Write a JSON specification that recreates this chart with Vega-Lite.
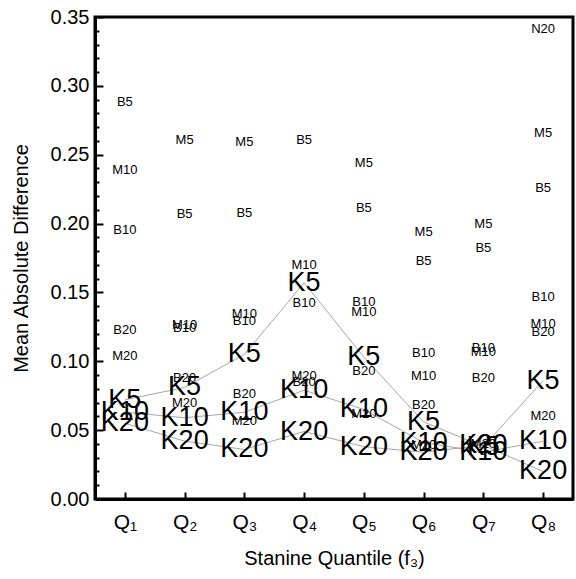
{
  "$schema": "https://vega.github.io/schema/vega-lite/v6.json",
  "width": 478,
  "height": 482,
  "autosize": "none",
  "padding": {"left": 95, "top": 17, "right": 3, "bottom": 80},
  "background": "white",
  "config": {
    "font": "Liberation Sans",
    "view": {"stroke": "black", "strokeWidth": 3, "fill": null}
  },
  "data": {
    "values": [
      {"q": "Q1", "label": "B5", "v": 0.288},
      {"q": "Q1", "label": "M10", "v": 0.239},
      {"q": "Q1", "label": "B10", "v": 0.195},
      {"q": "Q1", "label": "B20", "v": 0.123},
      {"q": "Q1", "label": "M20", "v": 0.104},
      {"q": "Q1", "label": "K5", "v": 0.072},
      {"q": "Q1", "label": "K10", "v": 0.063},
      {"q": "Q1", "label": "K20", "v": 0.055},
      {"q": "Q2", "label": "M5", "v": 0.261},
      {"q": "Q2", "label": "B5", "v": 0.207},
      {"q": "Q2", "label": "M10", "v": 0.126},
      {"q": "Q2", "label": "B10", "v": 0.124},
      {"q": "Q2", "label": "B20", "v": 0.088},
      {"q": "Q2", "label": "K5", "v": 0.081},
      {"q": "Q2", "label": "M20", "v": 0.070},
      {"q": "Q2", "label": "K10", "v": 0.059},
      {"q": "Q2", "label": "K20", "v": 0.042},
      {"q": "Q3", "label": "M5", "v": 0.259},
      {"q": "Q3", "label": "B5", "v": 0.208},
      {"q": "Q3", "label": "M10", "v": 0.134},
      {"q": "Q3", "label": "B10", "v": 0.129},
      {"q": "Q3", "label": "K5", "v": 0.105},
      {"q": "Q3", "label": "B20", "v": 0.076},
      {"q": "Q3", "label": "K10", "v": 0.063},
      {"q": "Q3", "label": "M20", "v": 0.057},
      {"q": "Q3", "label": "K20", "v": 0.036},
      {"q": "Q4", "label": "B5", "v": 0.261},
      {"q": "Q4", "label": "M10", "v": 0.170},
      {"q": "Q4", "label": "K5", "v": 0.157},
      {"q": "Q4", "label": "B10", "v": 0.142},
      {"q": "Q4", "label": "M20", "v": 0.089},
      {"q": "Q4", "label": "B20", "v": 0.085},
      {"q": "Q4", "label": "K10", "v": 0.079},
      {"q": "Q4", "label": "K20", "v": 0.049},
      {"q": "Q5", "label": "M5", "v": 0.244},
      {"q": "Q5", "label": "B5", "v": 0.211},
      {"q": "Q5", "label": "B10", "v": 0.143},
      {"q": "Q5", "label": "M10", "v": 0.136},
      {"q": "Q5", "label": "K5", "v": 0.103},
      {"q": "Q5", "label": "B20", "v": 0.093},
      {"q": "Q5", "label": "K10", "v": 0.065},
      {"q": "Q5", "label": "M20", "v": 0.062},
      {"q": "Q5", "label": "K20", "v": 0.038},
      {"q": "Q6", "label": "M5", "v": 0.194},
      {"q": "Q6", "label": "B5", "v": 0.173},
      {"q": "Q6", "label": "B10", "v": 0.106},
      {"q": "Q6", "label": "M10", "v": 0.089},
      {"q": "Q6", "label": "B20", "v": 0.068},
      {"q": "Q6", "label": "K5", "v": 0.056},
      {"q": "Q6", "label": "M20", "v": 0.039},
      {"q": "Q6", "label": "K10", "v": 0.041},
      {"q": "Q6", "label": "K20", "v": 0.034},
      {"q": "Q7", "label": "M5", "v": 0.200},
      {"q": "Q7", "label": "B5", "v": 0.182},
      {"q": "Q7", "label": "B10", "v": 0.110},
      {"q": "Q7", "label": "M10", "v": 0.107},
      {"q": "Q7", "label": "B20", "v": 0.088},
      {"q": "Q7", "label": "M20", "v": 0.040},
      {"q": "Q7", "label": "K5", "v": 0.038},
      {"q": "Q7", "label": "K20", "v": 0.039},
      {"q": "Q7", "label": "K10", "v": 0.034},
      {"q": "Q8", "label": "N20", "v": 0.341},
      {"q": "Q8", "label": "M5", "v": 0.266},
      {"q": "Q8", "label": "B5", "v": 0.226},
      {"q": "Q8", "label": "B10", "v": 0.147},
      {"q": "Q8", "label": "M10", "v": 0.127},
      {"q": "Q8", "label": "B20", "v": 0.121},
      {"q": "Q8", "label": "K5", "v": 0.086},
      {"q": "Q8", "label": "M20", "v": 0.060},
      {"q": "Q8", "label": "K10", "v": 0.042},
      {"q": "Q8", "label": "K20", "v": 0.020}
    ]
  },
  "encoding": {
    "x": {
      "field": "q",
      "type": "ordinal",
      "sort": ["Q1", "Q2", "Q3", "Q4", "Q5", "Q6", "Q7", "Q8"],
      "scale": {"type": "point", "padding": 0.5},
      "axis": {
        "title": "Stanine Quantile (f₃)",
        "labelExpr": "'Q' + ['₁','₂','₃','₄','₅','₆','₇','₈'][toNumber(substring(datum.label,1))-1]",
        "labelAngle": 0,
        "labelFontSize": 21,
        "labelColor": "black",
        "labelPadding": 19,
        "titleFontSize": 20,
        "titleFontWeight": "normal",
        "titleColor": "black",
        "titlePadding": 16,
        "tickSize": -7,
        "tickWidth": 2,
        "tickColor": "black",
        "domainColor": "black",
        "domainWidth": 3,
        "grid": false,
        "zindex": 2
      }
    }
  },
  "resolve": {"axis": {"y": "independent"}},
  "layer": [
    {
      "transform": [{"filter": "indexof(datum.label, 'K') === 0"}],
      "mark": {"type": "line", "color": "#a6a6a6", "strokeWidth": 1},
      "encoding": {
        "detail": {"field": "label"},
        "y": {
          "field": "v",
          "type": "quantitative",
          "scale": {"domain": [0, 0.35], "nice": false, "zero": true},
          "axis": {
            "orient": "left",
            "title": null,
            "values": [0.01, 0.02, 0.03, 0.04, 0.06, 0.07, 0.08, 0.09, 0.11, 0.12, 0.13, 0.14, 0.16, 0.17, 0.18, 0.19, 0.21, 0.22, 0.23, 0.24, 0.26, 0.27, 0.28, 0.29, 0.31, 0.32, 0.33, 0.34],
            "labels": false,
            "domain": false,
            "tickSize": -4,
            "tickWidth": 2,
            "tickColor": "black",
            "grid": false,
            "zindex": 2
          }
        }
      }
    },
    {
      "mark": {"type": "text", "align": "center", "baseline": "middle", "color": "black", "font": "Liberation Sans"},
      "encoding": {
        "text": {"field": "label"},
        "size": {"condition": {"test": "indexof(datum.label, 'K') === 0", "value": 27}, "value": 13},
        "y": {
          "field": "v",
          "type": "quantitative",
          "scale": {"domain": [0, 0.35], "nice": false, "zero": true},
          "axis": {
            "orient": "left",
            "title": "Mean Absolute Difference",
            "values": [0, 0.05, 0.1, 0.15, 0.2, 0.25, 0.3, 0.35],
            "format": ".2f",
            "labelOverlap": false,
            "labelFontSize": 20,
            "labelColor": "black",
            "labelPadding": 14,
            "titleFontSize": 20,
            "titleFontWeight": "normal",
            "titleColor": "black",
            "titlePadding": 19,
            "tickSize": -8,
            "tickWidth": 2,
            "tickColor": "black",
            "domainColor": "black",
            "domainWidth": 3,
            "grid": false,
            "zindex": 2
          }
        }
      }
    }
  ]
}
